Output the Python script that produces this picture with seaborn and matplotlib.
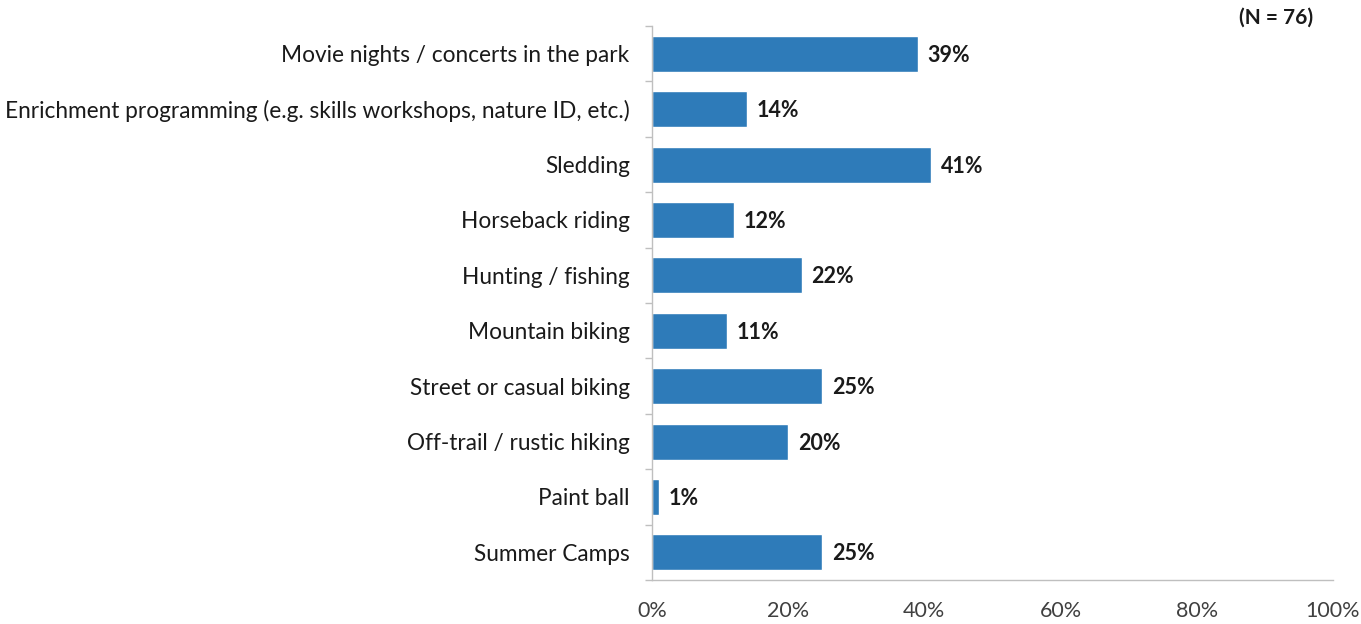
import matplotlib
matplotlib.use("Agg")
import matplotlib.pyplot as plt
import seaborn as sns
import pandas as pd
import numpy as np
from matplotlib.ticker import FixedLocator, PercentFormatter

activities = [
    "Movie nights / concerts in the park",
    "Enrichment programming (e.g. skills workshops, nature ID, etc.)",
    "Sledding",
    "Horseback riding",
    "Hunting / fishing",
    "Mountain biking",
    "Street or casual biking",
    "Off-trail / rustic hiking",
    "Paint ball",
    "Summer Camps",
]
shares = [39, 14, 41, 12, 22, 11, 25, 20, 1, 25]
x_ticks = [0, 20, 40, 60, 80, 100]
sample_note = "(N = 76)"

sns.set_theme(style="white")
plt.rcParams["font.family"] = ["Lato", "DejaVu Sans"]

df = pd.DataFrame({"activity": activities, "share": shares})

fig = plt.figure(figsize=(13.61, 6.24), dpi=100)
ax = fig.add_axes([0.479, 0.0705, 0.5004, 0.8878])

bar_color = "#2E7BB9"
sns.barplot(data=df, x="share", y="activity", orient="h", color=bar_color,
            saturation=1, width=0.65, ax=ax)

ax.set_xlim(0, 100)
ax.set_ylim(len(activities) - 0.5, -0.5)
ax.set_xlabel("")
ax.set_ylabel("")

# value labels at the end of each bar
for i, v in enumerate(shares):
    ax.text(v + 1.4, i + 0.03, f"{v}%", va="center", ha="left",
            fontsize=15.5, fontweight="bold", color="#1a1a1a")

# spines
for side in ("top", "right"):
    ax.spines[side].set_visible(False)
for side in ("left", "bottom"):
    ax.spines[side].set_color("#BFBFBF")
    ax.spines[side].set_linewidth(1.0)

# x axis ticks
ax.xaxis.set_major_locator(FixedLocator(x_ticks))
ax.xaxis.set_major_formatter(PercentFormatter(decimals=0))
ax.tick_params(axis="x", which="major", direction="out", length=5, width=1,
               color="#BFBFBF", labelsize=15.5, labelcolor="#404040", pad=10)

# y axis: category labels, tick marks at boundaries between categories
ax.tick_params(axis="y", which="major", length=0, labelsize=16.3,
               labelcolor="#1a1a1a", pad=16)
ax.yaxis.set_minor_locator(FixedLocator(np.arange(-0.5, len(activities), 1.0)))
ax.tick_params(axis="y", which="minor", direction="out", length=5, width=1,
               color="#BFBFBF", left=True)

fig.text(0.965, 0.971, sample_note, ha="right", va="center",
         fontsize=15, fontweight="bold", color="#1a1a1a")

fig.savefig("out.png", dpi=100, facecolor="white")
